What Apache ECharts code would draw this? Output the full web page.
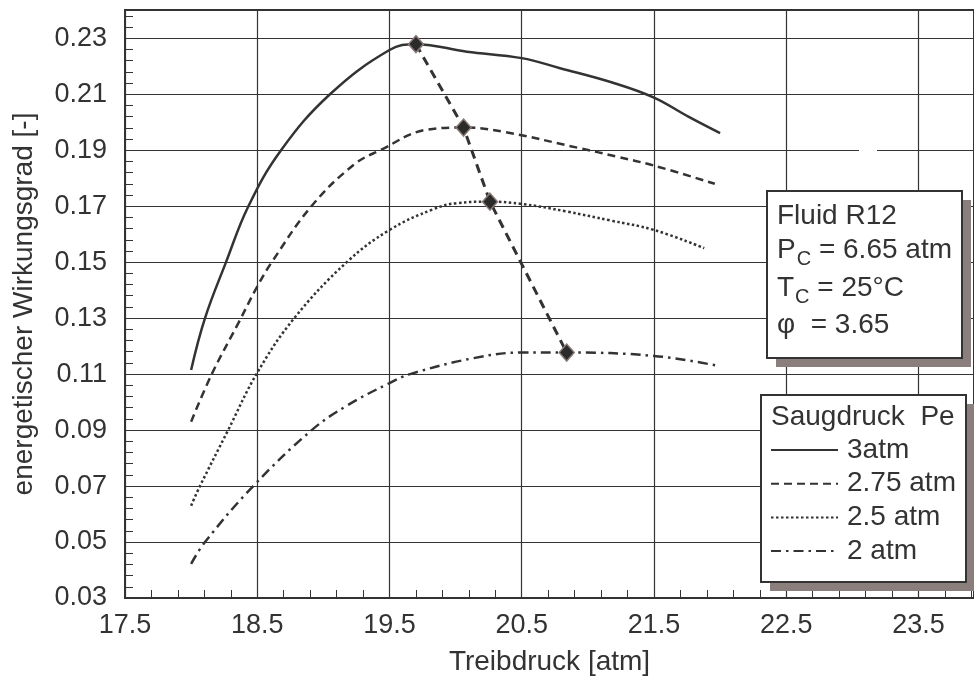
<!DOCTYPE html>
<html>
<head>
<meta charset="utf-8">
<script src="https://cdn.jsdelivr.net/npm/echarts@6/dist/echarts.min.js"></script>
<style>html,body{margin:0;padding:0;background:#fff}#c{width:974px;height:681px}</style>
</head>
<body>
<div id="c"></div>
<script>
// ---- data ----
const seriesNames = ['3atm', '2.75 atm', '2.5 atm', '2 atm'];
const p3X   = [18.0, 18.105, 18.264, 18.433, 18.68, 19.05, 19.5, 19.7, 20.085, 20.5, 20.79, 21.19, 21.5, 21.76, 22.0];
const p3Y   = [0.1115, 0.13, 0.15, 0.17, 0.19, 0.21, 0.2258, 0.2279, 0.2252, 0.2229, 0.2193, 0.2141, 0.2088, 0.202, 0.1961];
const p275X = [18.0, 18.156, 18.357, 18.5, 18.61, 18.91, 19.23, 19.43, 19.78, 20.06, 20.36, 20.94, 21.22, 21.5, 21.96];
const p275Y = [0.093, 0.11, 0.1282, 0.1413, 0.15, 0.17, 0.1848, 0.19, 0.1973, 0.1981, 0.1966, 0.1907, 0.1877, 0.1845, 0.178];
const p25X  = [18.0, 18.067, 18.28, 18.5, 18.78, 19.177, 19.5, 19.83, 20.01, 20.26, 20.5, 20.84, 21.17, 21.5, 21.88];
const p25Y  = [0.063, 0.07, 0.09, 0.1105, 0.13, 0.15, 0.1615, 0.1689, 0.1711, 0.1716, 0.1708, 0.1681, 0.1649, 0.1615, 0.155];
const p2X   = [18.0, 18.105, 18.47, 18.912, 19.177, 19.5, 19.656, 20.135, 20.5, 20.84, 21.5, 21.98];
const p2Y   = [0.0422, 0.05, 0.07, 0.09, 0.0987, 0.1068, 0.11, 0.1157, 0.1177, 0.1177, 0.1165, 0.113];
const optX  = [19.7, 20.06, 20.26, 20.84];
const optY  = [0.2279, 0.1981, 0.1716, 0.1177];
const xTickLabels = ['17.5', '18.5', '19.5', '20.5', '21.5', '22.5', '23.5'];
const yTickLabels = ['0.03', '0.05', '0.07', '0.09', '0.11', '0.13', '0.15', '0.17', '0.19', '0.21', '0.23'];
const infoLines = ['Fluid R12', 'P{s|C} = 6.65 atm', 'T{s|C} = 25°C', 'φ  = 3.65'];
const legendTitle = 'Saugdruck  Pe';

// ---- chart ----
const zip = (xs, ys) => xs.map((x, i) => [x, ys[i]]);
const FONT = "'Liberation Sans', Arial, Helvetica, sans-serif";
const C = '#333333';
const XMIN = 17.5, XMAX = 23.92, YMIN = 0.03, YMAX = 0.2401;

const chart = echarts.init(document.getElementById('c'), null, {renderer: 'canvas'});

const lineStyles = [
  {type: 'solid', width: 2.5},
  {type: [8, 5], width: 2.5},
  {type: [2.5, 2.5], width: 2.5},
  {type: [10, 5, 2.5, 5], width: 2.5}
];
const datasets = [zip(p3X, p3Y), zip(p275X, p275Y), zip(p25X, p25Y), zip(p2X, p2Y)];

const series = seriesNames.map((n, i) => ({
  name: n, type: 'line', data: datasets[i], smooth: 0.4, symbol: 'none',
  xAxisIndex: 0, yAxisIndex: 0, z: 3,
  lineStyle: Object.assign({color: C, cap: 'butt'}, lineStyles[i]),
  itemStyle: {color: C}
}));
series.push({
  name: 'opt', type: 'line', data: zip(optX, optY), smooth: false,
  symbol: 'diamond', symbolSize: [15, 17], z: 4,
  lineStyle: {color: C, width: 3, type: [9, 6]},
  itemStyle: {color: '#2b2b2b', borderColor: '#8a7a76', borderWidth: 1.5}
});

const info = infoLines.map((t, i) => ({
  type: 'text', left: 777, top: [202, 231, 269, 311][i], z: 30,
  style: {
    text: t, font: '28px ' + FONT, fill: C,
    rich: {s: {fontSize: 20, fontFamily: FONT, fill: C, padding: [18, 0, 0, 1], lineHeight: 20}}
  }
}));

chart.setOption({
  animation: false,
  backgroundColor: '#fff',
  textStyle: {fontFamily: FONT},
  grid: {left: 125, right: 0, top: 10, bottom: 83, containLabel: false, outerBoundsMode: 'none',
    show: true, borderColor: C, borderWidth: 2, backgroundColor: 'transparent'},
  xAxis: [{
    type: 'value', min: XMIN, max: XMAX, interval: 1, position: 'bottom',
    name: 'Treibdruck [atm]', nameLocation: 'middle', nameGap: 50,
    nameTextStyle: {fontSize: 28, color: C, fontFamily: FONT},
    axisLine: {show: true, lineStyle: {color: C, width: 2}},
    axisTick: {show: true, inside: true, length: 14, lineStyle: {color: C, width: 1}},
    axisLabel: {fontSize: 27, color: C, margin: 14, fontFamily: FONT, showMaxLabel: false,
      formatter: v => { const i = Math.round(v - XMIN); return (Math.abs(v - XMIN - i) < 1e-6 && xTickLabels[i]) ? xTickLabels[i] : ''; }},
    splitLine: {show: true, lineStyle: {color: C, width: 1.2}}
  }, {
    type: 'value', min: XMIN, max: XMAX, interval: 0.2, position: 'bottom', offset: 0,
    axisLine: {show: false}, axisLabel: {show: false}, splitLine: {show: false},
    axisTick: {show: true, inside: true, length: 8, lineStyle: {color: C, width: 1}}
  }],
  yAxis: [{
    type: 'value', min: YMIN, max: YMAX, interval: 0.02, position: 'left',
    name: 'energetischer Wirkungsgrad [-]', nameLocation: 'middle', nameGap: 87,
    nameTextStyle: {fontSize: 28, color: C, fontFamily: FONT},
    axisLine: {show: true, lineStyle: {color: C, width: 2}},
    axisTick: {show: true, inside: true, length: 14, lineStyle: {color: C, width: 1}},
    axisLabel: {fontSize: 27, color: C, margin: 18, fontFamily: FONT, showMaxLabel: false,
      formatter: v => { const i = Math.round((v - YMIN) / 0.02); return (Math.abs((v - YMIN) / 0.02 - i) < 1e-4 && yTickLabels[i]) ? yTickLabels[i] : ''; }},
    splitLine: {show: true, lineStyle: {color: C, width: 1.2}}
  }, {
    type: 'value', min: YMIN, max: YMAX, interval: 0.004, position: 'left', offset: 0,
    axisLine: {show: false}, axisLabel: {show: false}, splitLine: {show: false},
    axisTick: {show: true, inside: true, length: 8, lineStyle: {color: C, width: 1}}
  }],
  legend: {
    data: seriesNames, orient: 'vertical', left: 770, top: 436, padding: 0,
    itemWidth: 67, itemHeight: 14, itemGap: 5.7, z: 30,
    selectedMode: false,
    itemStyle: {opacity: 0, borderWidth: 0},
    textStyle: {fontSize: 28, color: C, fontFamily: FONT, padding: [0, 0, 0, 4]}
  },
  graphic: [
    {type: 'rect', z: 5, shape: {x: 859, y: 147, width: 18, height: 6}, style: {fill: '#fff'}},
    {type: 'rect', z: 20, shape: {x: 776, y: 200, width: 195, height: 167}, style: {fill: '#8a7f7c'}},
    {type: 'rect', z: 21, shape: {x: 767, y: 191, width: 195, height: 167}, style: {fill: '#fff', stroke: C, lineWidth: 2}},
    {type: 'rect', z: 20, shape: {x: 770, y: 404, width: 210, height: 187}, style: {fill: '#8a7f7c'}},
    {type: 'rect', z: 21, shape: {x: 761, y: 395, width: 205, height: 187}, style: {fill: '#fff', stroke: C, lineWidth: 2}},
    {type: 'text', left: 771, top: 403, z: 30, style: {text: legendTitle, font: '28px ' + FONT, fill: C}}
  ].concat(info),
  series: series
});
</script>
</body>
</html>
